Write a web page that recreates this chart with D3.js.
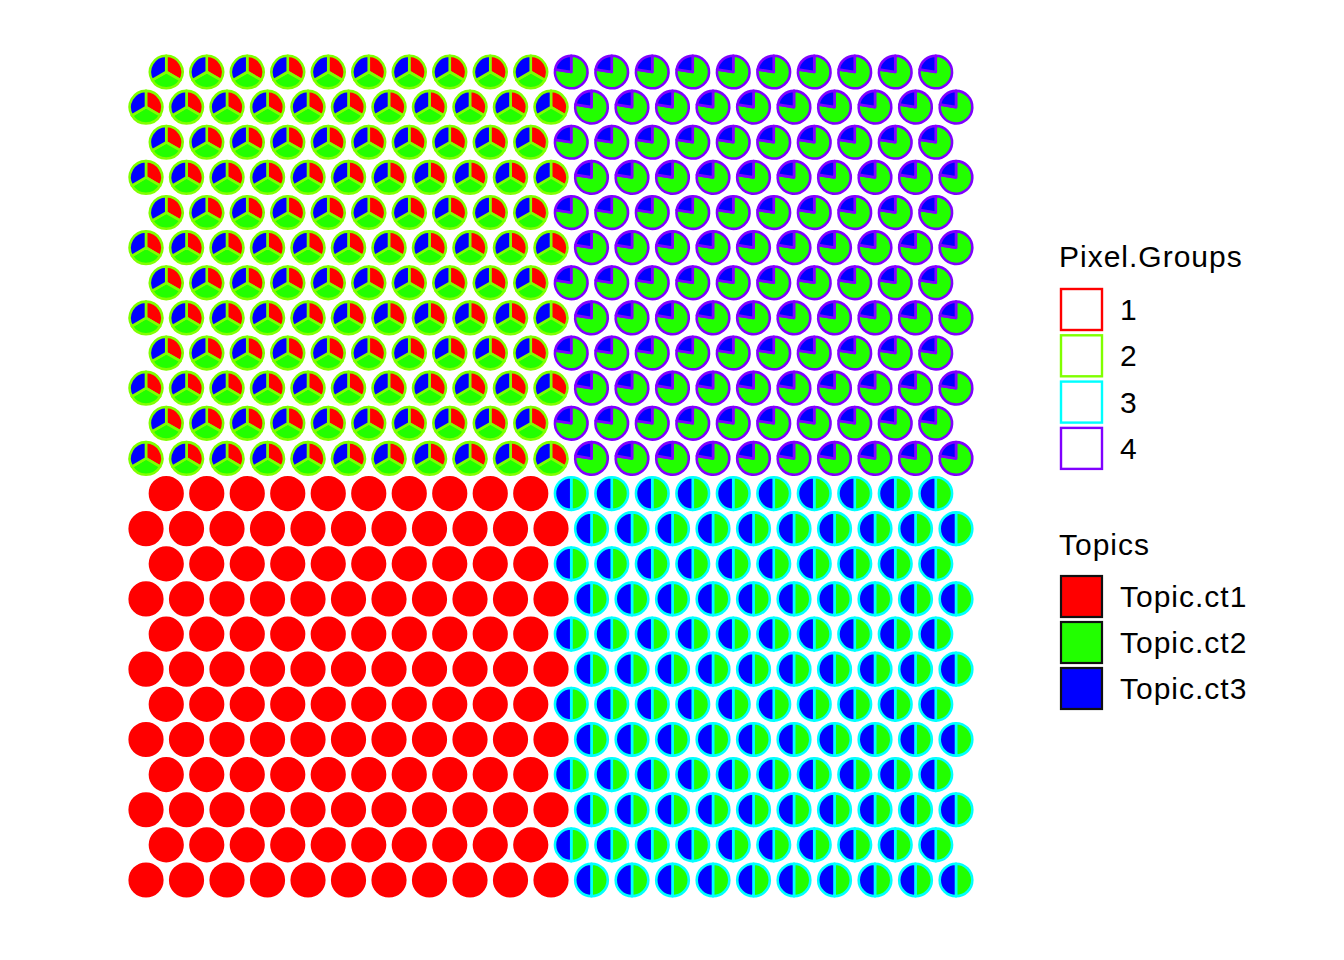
<!DOCTYPE html>
<html>
<head>
<meta charset="utf-8">
<script src="https://cdn.jsdelivr.net/npm/d3@7"></script>
<style>
  html, body { margin: 0; padding: 0; background: #fff; }
  svg { display: block; font-family: "Liberation Sans", Arial, sans-serif; }
</style>
</head>
<body>
<svg id="chart" width="1344" height="960"></svg>
<script>
// ---- data ----
const pixelGroups = ["1", "2", "3", "4"];
const groupColors = ["#FF0000", "#80FF00", "#00FFFF", "#8000FF"];
const topics = ["Topic.ct1", "Topic.ct2", "Topic.ct3"];
const topicColors = ["#FF0000", "#22FF00", "#0000FF"];
// topic proportions per pixel group (index = group 1..4)
const topicCt1 = [1.00, 0.3333, 0.00, 0.00];
const topicCt2 = [0.00, 0.3333, 0.50, 0.775];
const topicCt3 = [0.00, 0.3333, 0.50, 0.225];
// hexagonal spot grid: 24 rows; even rows offset by half a column
const nRows = 24;
const colsFull = 21;     // columns in non-offset rows
const colsOffset = 20;   // columns in offset rows
// group by quadrant: [top-left, top-right, bottom-left, bottom-right]
const quadrantGroups = ["2", "4", "1", "3"];

// ---- build spots ----
const spots = [];
for (let r = 0; r < nRows; r++) {
  const offset = r % 2 === 0;
  const n = offset ? colsOffset : colsFull;
  for (let c = 0; c < n; c++) {
    const x = offset ? c + 0.5 : c;
    const top = r < nRows / 2;
    const left = x <= 10;
    const q = (top ? 0 : 2) + (left ? 0 : 1);
    const g = quadrantGroups[q];
    const gi = pixelGroups.indexOf(g);
    spots.push({ x, y: r, group: g, props: [topicCt1[gi], topicCt2[gi], topicCt3[gi]] });
  }
}

// ---- scales ----
const svg = d3.select("#chart");
const xScale = d3.scaleLinear().domain([0, colsFull - 1]).range([146, 956]);
const yScale = d3.scaleLinear().domain([0, nRows - 1]).range([72, 880]);
const gColor = d3.scaleOrdinal().domain(pixelGroups).range(groupColors);
const tColor = d3.scaleOrdinal().domain(topics).range(topicColors);

const R = 16.3;
const pie = d3.pie().sort(null).value(d => d.v);
const arc = d3.arc().innerRadius(0).outerRadius(R);

const spotG = svg.append("g").selectAll("g.spot").data(spots).join("g")
  .attr("class", "spot")
  .attr("transform", d => `translate(${xScale(d.x)},${yScale(d.y)})`);

spotG.each(function(d) {
  const g = d3.select(this);
  const slices = pie(topics.map((t, i) => ({ t, v: d.props[i] })).filter(s => s.v > 0));
  const col = gColor(d.group);
  if (slices.length === 1) {
    g.append("circle").attr("r", R).attr("fill", tColor(slices[0].data.t))
      .attr("stroke", col).attr("stroke-width", 2.6);
  } else {
    g.selectAll("path").data(slices).join("path")
      .attr("d", arc)
      .attr("fill", s => tColor(s.data.t))
      .attr("stroke", col).attr("stroke-width", 2.6).attr("stroke-linejoin", "round");
  }
});

// ---- legends ----
const lx = 1060;
const fs = 30;
const ls = "1px";
svg.append("text").attr("x", lx - 1).attr("y", 267).attr("font-size", fs)
  .attr("letter-spacing", ls).text("Pixel.Groups");
const lg1 = svg.append("g").selectAll("g").data(pixelGroups).join("g")
  .attr("transform", (d, i) => `translate(${lx},${288 + i * 46.3})`);
lg1.append("rect").attr("x", 1).attr("y", 1).attr("width", 41).attr("height", 41)
  .attr("fill", "#fff").attr("stroke", d => gColor(d)).attr("stroke-width", 2.4);
lg1.append("text").attr("x", 60).attr("y", 21.5).attr("dy", "0.35em")
  .attr("font-size", fs).attr("letter-spacing", ls).text(d => d);

svg.append("text").attr("x", lx - 1).attr("y", 555).attr("font-size", fs)
  .attr("letter-spacing", ls).text("Topics");
const lg2 = svg.append("g").selectAll("g").data(topics).join("g")
  .attr("transform", (d, i) => `translate(${lx},${575 + i * 46})`);
lg2.append("rect").attr("x", 1).attr("y", 1).attr("width", 41).attr("height", 41)
  .attr("fill", d => tColor(d)).attr("stroke", "#111").attr("stroke-width", 2.2);
lg2.append("text").attr("x", 60).attr("y", 21.5).attr("dy", "0.35em")
  .attr("font-size", fs).attr("letter-spacing", ls).text(d => d);
</script>
</body>
</html>
